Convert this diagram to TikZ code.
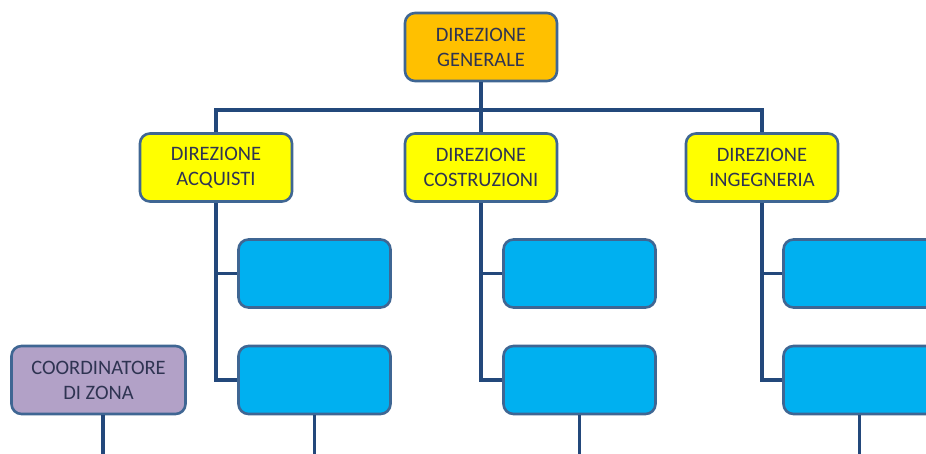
\documentclass[tikz,border=0pt]{standalone}
\usepackage{fontspec}
\setmainfont{Carlito}
\definecolor{gold}{HTML}{FFC000}
\definecolor{lemon}{HTML}{FFFF00}
\definecolor{sky}{HTML}{00B0F0}
\definecolor{lilac}{HTML}{B2A1C7}
\definecolor{edge}{HTML}{3F6693}
\definecolor{wire}{HTML}{23487B}
\definecolor{ink}{HTML}{2F3452}
\tikzset{
  unit/.style={draw=edge, line width=2.6pt, rounded corners=10pt,
    minimum width=152pt, minimum height=68pt, inner sep=0pt,
    align=center, text=ink, font=\fontsize{20.5}{25}\selectfont},
  wirestyle/.style={draw=wire, line width=3.3pt}
}
\begin{document}
\begin{tikzpicture}[x=1pt,y=-1pt]
\useasboundingbox (0,0) rectangle (926,454);
\fill[white] (0,0) rectangle (926,454);

% top of the chart
\node[unit, fill=gold] (dg) at (481,47) {DIREZIONE\\GENERALE};

% the three directorates
\node[unit, fill=lemon] (acq) at (216,167.5) {DIREZIONE\\ACQUISTI};
\node[unit, fill=lemon] (cos) at (481,167.5) {DIREZIONE\\COSTRUZIONI};
\node[unit, fill=lemon] (ing) at (762,167.5) {DIREZIONE\\INGEGNERIA};

% offices under each directorate
\node[unit, fill=sky] (acq1) at (314.5,273.5) {};
\node[unit, fill=sky] (acq2) at (314.5,380) {};
\node[unit, fill=sky] (cos1) at (579.5,273.5) {};
\node[unit, fill=sky] (cos2) at (579.5,380) {};
\node[unit, fill=sky] (ing1) at (859.5,273.5) {};
\node[unit, fill=sky] (ing2) at (859.5,380) {};

% area coordinator
\node[unit, fill=lilac, minimum width=174pt] (zona) at (98.5,380) {COORDINATORE\\DI ZONA};

\coordinate (bus) at (0,110);
\coordinate (bot) at (0,456);

% general direction to the bus
\draw[wirestyle] (dg.south) -- (dg.south |- bus);
\draw[wirestyle] (acq.north) -- (acq.north |- bus) -- (ing.north |- bus) -- (ing.north);
\draw[wirestyle] (cos.north) -- (cos.north |- bus);

% branches to the offices
\foreach \d in {acq,cos,ing}{
  \draw[wirestyle] (\d.south) |- (\d2.west);
  \draw[wirestyle] (\d.south |- \d1.west) -- (\d1.west);
  \draw[wirestyle] (\d2.south) -- (\d2.south |- bot);
}
\draw[wirestyle] ([xshift=4.5pt]zona.south) -- ([xshift=4.5pt]zona.south |- bot);
\end{tikzpicture}
\end{document}
